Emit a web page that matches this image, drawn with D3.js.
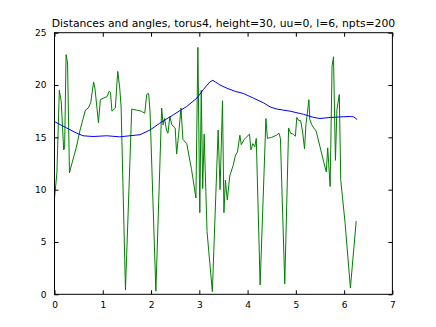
<!DOCTYPE html>
<html>
<head>
<meta charset="utf-8">
<script src="https://cdn.jsdelivr.net/npm/d3@7"></script>
<style>
  body { margin: 0; background: #fff; }
  text { font-family: "DejaVu Sans", sans-serif; fill: #000; }
</style>
</head>
<body>
<div class="chart"></div>
<script>
// distances (green) sampled along the curve
var distX = [0.00, 0.05, 0.10, 0.14, 0.19, 0.21, 0.24, 0.27, 0.31, 0.36, 0.45, 0.53, 0.64, 0.70, 0.75, 0.81, 0.84, 0.91, 0.95, 1.09,
  1.13, 1.16, 1.19, 1.26, 1.31, 1.35, 1.38, 1.47, 1.60, 1.70, 1.80, 1.87, 1.91, 1.95, 1.98, 2.10, 2.22, 2.25, 2.28, 2.32,
  2.35, 2.39, 2.43, 2.50, 2.53, 2.57, 2.62, 2.66, 2.74, 2.84, 2.93, 2.97, 3.01, 3.04, 3.07, 3.10, 3.16, 3.27, 3.39, 3.43,
  3.48, 3.51, 3.54, 3.58, 3.63, 3.70, 3.75, 3.79, 3.84, 3.87, 3.93, 3.97, 4.04, 4.07, 4.11, 4.15, 4.18, 4.26, 4.38, 4.41,
  4.50, 4.60, 4.65, 4.68, 4.77, 4.85, 4.89, 4.95, 4.99, 5.02, 5.06, 5.10, 5.14, 5.18, 5.21, 5.23, 5.27, 5.29, 5.33, 5.37,
  5.42, 5.50, 5.58, 5.63, 5.66, 5.71, 5.75, 5.78, 5.82, 5.85, 5.90, 5.93, 6.02, 6.13, 6.25];
var distY = [9.2, 11.6, 19.5, 18.4, 13.8, 14.0, 22.9, 22.1, 11.6, 12.5, 14.0, 15.7, 17.6, 17.8, 18.3, 20.3, 19.6, 16.4, 18.6, 18.9,
  19.4, 19.3, 17.5, 17.8, 21.3, 19.8, 17.9, 0.4, 17.7, 17.6, 17.5, 17.3, 19.1, 19.2, 17.4, 0.3, 17.8, 16.2, 16.8, 15.7,
  15.4, 17.0, 16.2, 15.9, 13.4, 15.2, 17.8, 14.8, 14.4, 11.9, 9.2, 23.6, 7.8, 19.5, 10.1, 15.3, 6.0, 0.25, 15.7, 10.0,
  18.5, 7.8, 10.9, 9.0, 11.3, 12.3, 13.3, 13.6, 15.2, 14.3, 14.8, 15.0, 15.3, 13.8, 14.4, 14.1, 14.9, 0.9, 16.8, 14.9,
  15.0, 15.2, 15.4, 14.9, 1.0, 15.9, 15.4, 15.3, 15.1, 16.9, 16.6, 16.6, 15.5, 13.9, 16.3, 17.0, 18.6, 16.7, 16.2, 15.9,
  15.6, 14.1, 12.6, 11.7, 14.0, 10.3, 21.8, 22.7, 12.8, 17.6, 19.1, 10.9, 6.8, 0.6, 7.0];

// angles (blue), smooth
var angX = [0.00, 0.25, 0.46, 0.59, 0.80, 1.08, 1.35, 1.77, 1.98, 2.18, 2.46, 2.74, 2.95, 3.08, 3.22, 3.28, 3.33, 3.43, 3.57, 3.74,
  3.91, 4.12, 4.33, 4.47, 4.61, 4.88, 5.16, 5.37, 5.50, 5.71, 5.92, 6.13, 6.20, 6.27];
var angY = [16.5, 15.9, 15.4, 15.15, 15.08, 15.15, 15.05, 15.25, 15.7, 16.35, 17.15, 17.95, 18.75, 19.55, 20.3, 20.45, 20.3, 20.0, 19.7, 19.4,
  19.2, 18.75, 18.3, 17.9, 17.7, 17.5, 17.2, 16.9, 16.8, 16.9, 16.95, 17.0, 16.95, 16.7];

var xTicks = [0, 1, 2, 3, 4, 5, 6, 7];
var yTicks = [0, 5, 10, 15, 20, 25];
var title = "Distances and angles, torus4, height=30, uu=0, l=6, npts=200";

var svgWidth = 436;
var svgHeight = 327;
var margin = { top: 32.7, right: 43.6, bottom: 32.7, left: 54.5 };
var width = svgWidth - margin.left - margin.right;
var height = svgHeight - margin.top - margin.bottom;

var svg = d3.select(".chart")
  .append("svg")
  .attr("width", svgWidth)
  .attr("height", svgHeight);

var chartGroup = svg.append("g")
  .attr("transform", `translate(${margin.left}, ${margin.top})`);

var x = d3.scaleLinear().domain([0, 7]).range([0, width]);
var y = d3.scaleLinear().domain([0, 25]).range([height, 0]);

var line = d3.line().x(d => x(d[0])).y(d => y(d[1]));

chartGroup.append("path")
  .datum(d3.zip(distX, distY))
  .attr("d", line)
  .attr("fill", "none")
  .attr("stroke", "#008000")
  .attr("stroke-width", 1);

chartGroup.append("path")
  .datum(d3.zip(angX, angY))
  .attr("d", line)
  .attr("fill", "none")
  .attr("stroke", "#0000ff")
  .attr("stroke-width", 1);

// axes: ticks pointing inward on all four sides
function styleAxis(g) {
  g.select(".domain").remove();
  g.selectAll("line").attr("stroke", "#000");
  g.selectAll("text").attr("font-size", "9px").attr("fill", "#000")
    .style("font-family", "DejaVu Sans, sans-serif");
}

chartGroup.append("g")
  .attr("transform", `translate(0, ${height})`)
  .call(d3.axisBottom(x).tickValues(xTicks).tickFormat(d3.format("d")).tickSizeInner(-4).tickPadding(7))
  .call(styleAxis);
chartGroup.append("g")
  .call(d3.axisTop(x).tickValues(xTicks).tickFormat("").tickSizeInner(-4))
  .call(styleAxis);
chartGroup.append("g")
  .call(d3.axisLeft(y).tickValues(yTicks).tickFormat(d3.format("d")).tickSizeInner(-4).tickPadding(8))
  .call(styleAxis);
chartGroup.append("g")
  .attr("transform", `translate(${width}, 0)`)
  .call(d3.axisRight(y).tickValues(yTicks).tickFormat("").tickSizeInner(-4))
  .call(styleAxis);

chartGroup.append("rect")
  .attr("width", width)
  .attr("height", height)
  .attr("fill", "none")
  .attr("stroke", "#000")
  .attr("stroke-width", 1);

svg.append("text")
  .attr("x", margin.left + width / 2)
  .attr("y", margin.top - 6)
  .attr("text-anchor", "middle")
  .attr("font-size", "10.8px")
  .text(title);
</script>
</body>
</html>
